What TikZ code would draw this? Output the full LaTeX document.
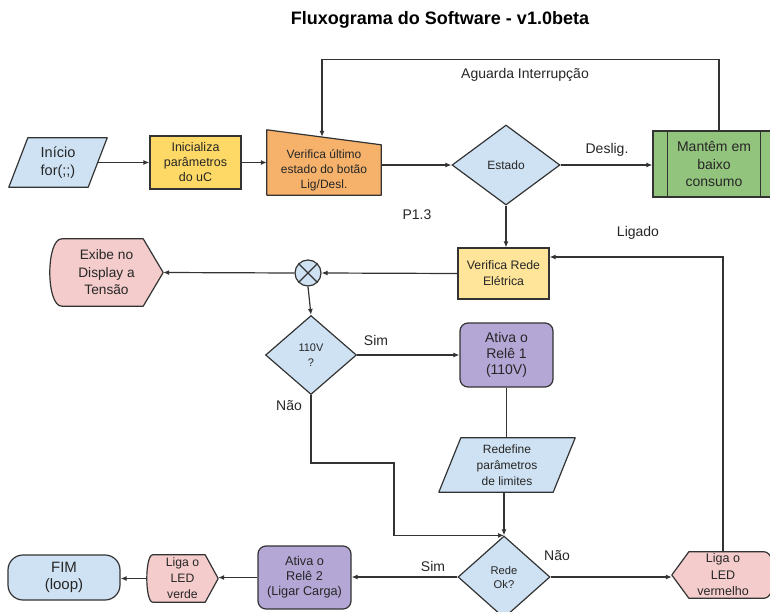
\documentclass[tikz,border=0pt]{standalone}
\usepackage{fontspec}
\setmainfont{Liberation Sans}
\usetikzlibrary{shapes.geometric,arrows.meta,backgrounds}

\definecolor{lblue}{HTML}{CFE2F3}
\definecolor{goldfill}{HTML}{FFD966}
\definecolor{orng}{HTML}{F6B26B}
\definecolor{grn}{HTML}{93C47D}
\definecolor{lyel}{HTML}{FFE599}
\definecolor{pnk}{HTML}{F4CCCC}
\definecolor{purp}{HTML}{B4A7D6}
\definecolor{edgecol}{HTML}{333333}
\definecolor{ink}{HTML}{262626}

\begin{document}
\begin{tikzpicture}[x=1pt,y=-1pt,
  every node/.style={text=ink, align=center, inner sep=0pt},
  pbox/.style={draw=edgecol, line width=1.2pt, rectangle},
  txt/.style={rectangle},
  outl/.style={draw=edgecol, line width=1.2pt, line join=round},
  arr/.style={draw=edgecol, line width=1.2pt, -{Latex[length=6pt,width=5pt]}},
  ln/.style={draw=edgecol, line width=1.2pt},
  lbl/.style={font=\fontsize{14}{16}\selectfont},
  dec/.style={shape=diamond, draw=edgecol, line width=1.2pt, fill=lblue, inner sep=0pt},
]
\useasboundingbox (0,0) rectangle (770,612);
\clip (0,0) rectangle (770,612);

% title
\node[font=\bfseries\fontsize{18}{20}\selectfont, text=black] (title) at (440,20) {Fluxograma do Software - v1.0beta};

% nodes
\node[txt, minimum width=98, minimum height=49, font=\fontsize{14.5}{18}\selectfont] (inicio) at (58,162.5) {Início\\for(;;)};
\node[pbox, fill=goldfill, minimum width=91, minimum height=53, font=\fontsize{12.5}{15}\selectfont] (inicializa) at (195.5,162.5) {Inicializa\\parâmetros\\do uC};
\node[txt, minimum width=114, minimum height=50, font=\fontsize{12}{15}\selectfont] (verifica) at (324,170) {Verifica último\\estado do botão\\Lig/Desl.};
\node[dec, minimum width=108, minimum height=80, font=\fontsize{12}{14}\selectfont] (estado) at (506,165) {Estado};
\node[pbox, fill=grn, minimum width=122, minimum height=66, font=\fontsize{14}{17.5}\selectfont] (mantem) at (714,164) {Mantêm em\\baixo\\consumo};
\draw[ln] ([xshift=15]mantem.north west) -- ([xshift=15]mantem.south west)
          ([xshift=-15]mantem.north east) -- ([xshift=-15]mantem.south east);
\node[pbox, fill=lyel, minimum width=91, minimum height=51, font=\fontsize{12.3}{16}\selectfont] (verifrede) at (503.5,273.5) {Verifica Rede\\Elétrica};
\node[circle, draw=edgecol, line width=1.2pt, fill=lblue, minimum size=26] (cross) at (308,273) {};
\draw[ln] (cross.north east) -- (cross.south west) (cross.north west) -- (cross.south east);
\node[txt, minimum width=113, minimum height=67, font=\fontsize{13.7}{17.5}\selectfont] (exibe) at (106.5,272.5) {Exibe no\\Display a\\Tensão};
\node[dec, minimum width=91, minimum height=79, font=\fontsize{11}{15}\selectfont] (v110) at (311,355) {110V\\?};
\node[pbox, fill=purp, rounded corners=8pt, minimum width=93, minimum height=64, font=\fontsize{14}{16}\selectfont] (rele1) at (506.5,355) {Ativa o\\Relê 1\\(110V)};
\node[txt, minimum width=136, minimum height=54, font=\fontsize{12}{16}\selectfont] (redefine) at (507,465) {Redefine\\parâmetros\\de limites};
\node[dec, minimum width=92, minimum height=82, font=\fontsize{11.2}{14}\selectfont] (redeok) at (504,577) {Rede\\Ok?};
\node[txt, minimum width=102, minimum height=46, font=\fontsize{12.5}{16.5}\selectfont] (ledverm) at (723,575) {Liga o\\LED\\vermelho};
\node[pbox, fill=purp, rounded corners=8pt, minimum width=93, minimum height=63, font=\fontsize{12.7}{15}\selectfont] (rele2) at (304.5,577.5) {Ativa o\\Relê 2\\(Ligar Carga)};
\node[txt, minimum width=71, minimum height=47, font=\fontsize{12.2}{16}\selectfont] (ledverde) at (182.5,578.5) {Liga o\\LED\\verde};
\node[pbox, fill=lblue, rounded corners=15pt, minimum width=112, minimum height=45, font=\fontsize{15}{17.5}\selectfont] (fim) at (64,577.5) {FIM\\(loop)};

% outlines of the non-rectangular symbols, behind their text
\begin{scope}[on background layer]
  \clip (0,0) rectangle (770,612);
  \path[outl, fill=lblue] ([xshift=19]inicio.north west) -- (inicio.north east)
     -- ([xshift=-19]inicio.south east) -- (inicio.south west) -- cycle;
  \path[outl, fill=orng] ([yshift=15]verifica.north west) -- (verifica.north east)
     -- (verifica.south east) -- (verifica.south west) -- cycle;
  \path[outl, fill=pnk] ([xshift=12]exibe.north west) -- ([xshift=-20]exibe.north east)
     -- (exibe.east) -- ([xshift=-20]exibe.south east) -- ([xshift=12]exibe.south west)
     .. controls ([xshift=-4]exibe.south west) and ([xshift=-4]exibe.north west) .. ([xshift=12]exibe.north west) -- cycle;
  \path[outl, fill=lblue] ([xshift=22]redefine.north west) -- (redefine.north east)
     -- ([xshift=-22]redefine.south east) -- (redefine.south west) -- cycle;
  \path[outl, fill=pnk] (ledverm.west) -- ([xshift=17]ledverm.north west) -- ([xshift=-10]ledverm.north east)
     .. controls ([xshift=3.3]ledverm.north east) and ([xshift=3.3]ledverm.south east) .. ([xshift=-10]ledverm.south east)
     -- ([xshift=17]ledverm.south west) -- cycle;
  \path[outl, fill=pnk] ([xshift=6]ledverde.north west) -- ([xshift=-13]ledverde.north east)
     -- (ledverde.east) -- ([xshift=-13]ledverde.south east) -- ([xshift=6]ledverde.south west)
     .. controls ([xshift=-2]ledverde.south west) and ([xshift=-2]ledverde.north west) .. ([xshift=6]ledverde.north west) -- cycle;
\end{scope}

% connectors
\draw[arr] ([xshift=-9.5]inicio.east) -- (inicializa.west);
\draw[arr] (inicializa.east) -- (inicializa.east -| verifica.west);
\draw[arr] (verifica.east |- estado.west) -- (estado.west);
\draw[arr] (estado.east) -- (estado.east -| mantem.west);
\node[lbl] (deslig) at (607,150) {Deslig.};
\draw[arr] ([xshift=5]mantem.north) |- ([xshift=-2,yshift=85]verifica.north) -- ([xshift=-2,yshift=8]verifica.north);
\node[lbl] (aguarda) at (525,75) {Aguarda Interrupção};
\node[lbl] (p13) at (417,215) {P1.3};
\draw[arr] (estado.south) -- (estado.south |- verifrede.north);
\draw[arr] (ledverm.north) |- ([yshift=16.5]verifrede.east);
\node[lbl] (ligado) at (638,233) {Ligado};
\draw[arr] (verifrede.west) -- (cross.east);
\draw[arr] (cross.west) -- (exibe.east);
\draw[arr] (cross.south) -- (v110.north);
\draw[arr] (v110.east) -- (rele1.west);
\node[lbl] (sim1) at (376,340) {Sim};
\node[lbl] (nao1) at (289,406) {Não};
\coordinate (naobend) at (394,463);
\draw[arr] (v110.south) |- (naobend) |- (redeok.north);
\draw[ln] (rele1.south) -- (rele1.south |- redefine.north);
\draw[arr] (redeok.north |- redefine.south) -- (redeok.north);
\draw[arr] (redeok.east) -- (redeok.east -| ledverm.west);
\node[lbl] (nao2) at (557,556) {Não};
\draw[arr] (redeok.west) -- (redeok.west -| rele2.east);
\node[lbl] (sim2) at (433,566) {Sim};
\draw[arr] (rele2.west) -- (rele2.west -| ledverde.east);
\draw[arr] (ledverde.west) -- (ledverde.west -| fim.east);
\end{tikzpicture}
\end{document}
